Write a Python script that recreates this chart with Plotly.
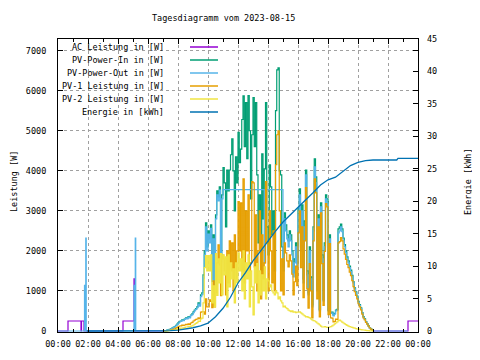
import pandas as pd
import plotly.graph_objects as go

DAY = "2023-08-15"


def ts(hm):
    if hm == "24:00":
        return "2023-08-16 00:00"
    return f"{DAY} {hm}"


# ---------------- daytime samples: every 5 minutes, 07:00 .. 21:00 ----------------
day_times = list(pd.date_range(f"{DAY} 07:00", f"{DAY} 21:00", freq="5min"))

pv_in_day = [
    0, 5, 10, 20, 30, 40, 55, 70, 90, 110, 140, 170,                        # 07
    210, 240, 250, 280, 270, 300, 330, 320, 360, 340, 400, 430,             # 08
    480, 520, 560, 600, 700, 650, 900, 950, 1400, 2000, 2700, 2100,         # 09
    2500, 2300, 2650, 1300, 2400, 1200, 2900, 3500, 3350, 3600, 1800, 3400, # 10
    4080, 3700, 2600, 4020, 3500, 4020, 4400, 4800, 4000, 3000, 4350, 3700, # 11
    4960, 4200, 4540, 5280, 5870, 4600, 5700, 4300, 5880, 5000, 3300, 4900, # 12
    5830, 4600, 5700, 3900, 2200, 3400, 1500, 4420, 2800, 4050, 5700, 2600, # 13
    1900, 4150, 3600, 2400, 3000, 1500, 5500, 6520, 6570, 4000, 3900, 2100, # 14
    1600, 2950, 2650, 2400, 2250, 2500, 2400, 2000, 1450, 1800, 2200, 1700, # 15
    3050, 3550, 2100, 3150, 1300, 2750, 4020, 1500, 950, 2100, 1350, 650,   # 16
    2600, 4300, 3850, 1050, 2900, 530, 3200, 1900, 780, 2200, 3400, 3300,   # 17
    520, 2400, 460, 470, 400, 440, 520, 540, 2550, 2600, 2670, 2550,        # 18
    2320, 2160, 2000, 1850, 1750, 1620, 1520, 1390, 1230, 1080, 980, 870,   # 19
    740, 660, 575, 460, 360, 310, 235, 185, 135, 85, 52, 21,                # 20
    0,                                                                      # 21
]

pv_out_day = [
    0, 5, 10, 18, 28, 38, 50, 65, 85, 105, 130, 160,                        # 07
    200, 230, 240, 265, 260, 290, 315, 305, 345, 330, 385, 410,             # 08
    460, 500, 540, 580, 670, 620, 860, 910, 1320, 1900, 2600, 2000,         # 09
    2420, 2200, 2560, 1240, 2300, 1150, 2800, 3400, 3250, 3520, 1730, 3300, # 10
    3530, 3530, 3530, 3530, 3530, 3530, 3530, 3530, 3530, 3530, 3530, 3530, # 11
    3530, 3530, 3530, 3530, 3530, 3530, 3530, 3530, 3530, 3530, 3530, 3530, # 12
    3530, 3530, 3530, 3530, 3530, 3530, 3530, 3530, 3530, 1700, 3530, 3530, # 13
    3530, 3530, 3530, 3530, 3530, 3530, 3530, 3530, 3530, 3530, 3530, 3530, # 14
    1500, 2800, 2500, 2300, 2100, 2400, 2250, 1900, 1350, 1700, 2100, 1600, # 15
    2900, 3400, 2000, 3000, 1200, 2600, 3900, 1400, 900, 2000, 1300, 600,   # 16
    2500, 4100, 3700, 1000, 2800, 500, 3100, 1800, 750, 2100, 3300, 3200,   # 17
    500, 2300, 440, 450, 380, 420, 500, 520, 2450, 2500, 2600, 2480,        # 18
    2250, 2100, 1950, 1800, 1700, 1580, 1480, 1350, 1200, 1050, 950, 850,   # 19
    720, 640, 560, 450, 350, 300, 230, 180, 130, 80, 50, 20,                # 20
    0,                                                                      # 21
]

pv1_day = [
    0, 0, 3, 8, 12, 18, 25, 32, 45, 55, 70, 85,                             # 07
    110, 125, 130, 145, 140, 150, 165, 160, 180, 165, 200, 215,             # 08
    250, 270, 290, 300, 330, 310, 470, 480, 480, 420, 800, 600,             # 09
    600, 780, 740, 580, 1250, 600, 960, 1700, 2150, 1650, 880, 1900,        # 10
    1800, 1500, 900, 2000, 1200, 2250, 1500, 2200, 1000, 2400, 1300, 2000,  # 11
    3230, 2000, 3200, 1500, 3800, 1200, 3000, 2000, 3400, 1500, 1700, 3730, # 12
    3700, 1600, 2900, 1000, 2000, 3000, 800, 2400, 1300, 1700, 3730, 2200,  # 13
    1000, 3000, 2000, 1200, 2500, 1000, 4150, 4900, 5000, 3000, 1000, 1800, # 14
    900, 2200, 1950, 1750, 1600, 1900, 1750, 1420, 900, 1230, 1620, 1130,   # 15
    2450, 3000, 1580, 2600, 830, 2250, 3580, 1050, 570, 1680, 1000, 330,    # 16
    2250, 3800, 3450, 800, 2600, 350, 2950, 1680, 640, 1990, 3180, 3100,    # 17
    410, 2180, 330, 320, 230, 240, 300, 290, 2200, 2230, 2330, 2250,        # 18
    2050, 1920, 1790, 1660, 1580, 1470, 1380, 1260, 1110, 980, 890, 800,    # 19
    680, 600, 525, 420, 325, 280, 215, 170, 122, 75, 47, 20,                # 20
    0,                                                                      # 21
]

pv2_day = [
    0, 0, 2, 5, 8, 12, 16, 20, 25, 30, 35, 45,                              # 07
    55, 65, 70, 75, 80, 90, 100, 100, 110, 115, 120, 130,                   # 08
    150, 170, 190, 210, 250, 240, 300, 320, 700, 1580, 1880, 1500,          # 09
    1880, 1500, 1900, 700, 1130, 600, 1930, 890, 1800, 1200, 1930, 900,     # 10
    1900, 1400, 1850, 600, 1900, 1100, 1700, 1300, 1550, 700, 1700, 1200,   # 11
    1950, 1500, 1800, 1000, 2000, 800, 1700, 1300, 1900, 600, 1500, 1100,   # 12
    400, 1600, 1200, 1680, 700, 1500, 900, 1400, 1000, 1600, 800, 1300,     # 13
    1250, 1100, 1150, 1000, 950, 900, 1000, 950, 800, 850, 750, 700,        # 14
    600, 620, 580, 560, 520, 500, 480, 500, 470, 480, 460, 470,             # 15
    470, 480, 450, 430, 400, 380, 350, 360, 340, 330, 300, 280,             # 16
    260, 250, 230, 200, 180, 150, 120, 100, 100, 110, 100, 90,              # 17
    90, 100, 110, 130, 150, 180, 200, 230, 260, 270, 250, 220,              # 18
    200, 180, 160, 140, 120, 110, 100, 90, 80, 70, 60, 50,                  # 19
    45, 40, 35, 30, 25, 20, 15, 10, 8, 5, 3, 0,                             # 20
    0,                                                                      # 21
]

# ---------------- night-time samples ----------------
ac_times = ["00:00", "00:40", "01:32", "01:34", "01:44", "04:20", "05:04", "05:06", "07:00",
            "12:00", "21:00", "23:20", "24:00"]
ac_vals = [0, 250, 0, 250, 0, 250, 1300, 0, 0,
           None, 0, 250, 250]

pv_out_night_times = ["00:00", "01:46", "01:48", "01:51", "01:53", "05:04", "05:06", "05:09", "05:11"]
pv_out_night_vals = [0, 1140, 0, 2320, 0, 1140, 0, 2320, 0]
pv_out_late_times = ["23:20"]
pv_out_late_vals = [0]

energy_times = ["01:55", "07:00", "07:30", "08:00", "08:30", "09:00", "09:30", "10:00", "10:30",
                "11:00", "11:30", "12:00", "12:30", "13:00", "13:30", "14:00", "14:30", "15:00",
                "15:30", "16:00", "16:30", "17:00", "17:30", "18:00", "18:30", "19:00", "19:30",
                "20:00", "20:30", "21:00", "22:35", "22:40", "24:00"]
energy_vals = [0, 0, 0.05, 0.15, 0.3, 0.5, 0.8, 1.2, 2.2,
               3.5, 5.2, 7.4, 9.0, 10.8, 12.3, 13.9, 15.4, 16.8,
               17.9, 19.0, 20.2, 21.3, 22.5, 23.3, 23.7, 24.6, 25.5,
               26.0, 26.25, 26.35, 26.35, 26.6, 26.6]

# ---------------- series & styles ----------------
labels = ["AC Leistung in [W]", "PV-Power-In in [W]", "PV-Power-Out in [W]",
          "PV-1 Leistung in [W]", "PV-2 Leistung in [W]", "Energie in [kWh]"]
colors = ["#9400d3", "#009e73", "#56b4e9", "#e69f00", "#f0e442", "#0072b2"]

fig = go.Figure()

fig.add_trace(go.Scatter(x=[ts(t) for t in ac_times], y=ac_vals, mode="lines",
                         line=dict(color=colors[0], width=1.2, shape="hv"),
                         connectgaps=False, name=labels[0]))
fig.add_trace(go.Scatter(x=day_times, y=pv_in_day, mode="lines",
                         line=dict(color=colors[1], width=1.2, shape="hv"), name=labels[1]))
pv_out_x = [ts(t) for t in pv_out_night_times] + day_times + [ts(t) for t in pv_out_late_times]
pv_out_y = pv_out_night_vals + pv_out_day + pv_out_late_vals
fig.add_trace(go.Scatter(x=pv_out_x, y=pv_out_y, mode="lines",
                         line=dict(color=colors[2], width=1.2, shape="hv"), name=labels[2]))
fig.add_trace(go.Scatter(x=day_times, y=pv1_day, mode="lines",
                         line=dict(color=colors[3], width=1.2, shape="hv"), name=labels[3]))
fig.add_trace(go.Scatter(x=day_times, y=pv2_day, mode="lines",
                         line=dict(color=colors[4], width=1.2, shape="hv"), name=labels[4]))
fig.add_trace(go.Scatter(x=[ts(t) for t in energy_times], y=energy_vals, mode="lines",
                         line=dict(color=colors[5], width=1.3), yaxis="y2", name=labels[5]))

FONT = "DejaVu Sans Mono"
FS = 8.5
YMAX = 7290
YMIN = -25
Y2MAX = 45
Y2MIN = YMIN * Y2MAX / YMAX

grid = dict(showgrid=True, gridcolor="#a0a0a0", griddash="3px,3px", gridwidth=1)

# the page body has an 8px margin, so the figure is drawn 8px right/down
fig.update_layout(
    width=472, height=352,
    margin=dict(l=50, r=62, t=31, b=28),
    paper_bgcolor="white", plot_bgcolor="white",
    showlegend=False,
    font=dict(family=FONT, size=FS, color="black"),
    xaxis=dict(type="date", range=[ts("00:00"), ts("24:00")],
               tick0=ts("00:00"), dtick=7200000, tickformat="%H:%M",
               ticks="inside", ticklen=5, tickcolor="black",
               showline=True, linecolor="black", linewidth=1, mirror="ticks",
               zeroline=False, ticklabelstandoff=4,
               minor=dict(dtick=3600000, ticks="inside", ticklen=3, tickcolor="black", showgrid=False),
               **grid),
    yaxis=dict(range=[YMIN, YMAX], tick0=0, dtick=1000,
               ticks="inside", ticklen=5, tickcolor="black",
               showline=True, linecolor="black", linewidth=1, mirror="ticks",
               zeroline=False, ticklabelstandoff=9, **grid),
    yaxis2=dict(range=[Y2MIN, Y2MAX], tick0=0, dtick=5, overlaying="y", side="right",
                ticks="inside", ticklen=5, tickcolor="black", showgrid=False,
                zeroline=False, showline=False, ticklabelstandoff=8),
)

# white key box (hides grid under the key)
fig.add_shape(type="rect", xref="paper", yref="paper", x0=0.002, x1=0.4639, y0=0.7235, y1=0.998,
              fillcolor="white", line=dict(width=0), layer="between")

# key: text right-aligned, line sample to the right (positions in page pixels)
PX_L, PX_T, PW, PH = 58, 39, 360, 293
def px_x(px):
    return (px - PX_L) / PW
def px_y(py):
    return (PX_T + PH - py) / PH

row_y = [47, 60, 73, 86, 99, 112]
for lab, col, ry in zip(labels, colors, row_y):
    fig.add_annotation(x=px_x(166), y=px_y(ry), xref="paper", yref="paper", text=lab,
                       showarrow=False, xanchor="right", yanchor="middle",
                       font=dict(family=FONT, size=FS, color="black"))
    fig.add_shape(type="line", xref="paper", yref="paper", x0=px_x(190), x1=px_x(218),
                  y0=px_y(ry), y1=px_y(ry), line=dict(color=col, width=1.5), layer="above")

# title and axis titles
fig.add_annotation(x=px_x(223.5), y=px_y(18), xref="paper", yref="paper",
                   text="Tagesdiagramm vom 2023-08-15", showarrow=False,
                   xanchor="center", yanchor="middle", font=dict(family=FONT, size=FS))
fig.add_annotation(x=px_x(14), y=px_y(182), xref="paper", yref="paper",
                   text="Leistung [W]", textangle=-90, showarrow=False,
                   xanchor="center", yanchor="middle", font=dict(family=FONT, size=FS))
fig.add_annotation(x=px_x(468), y=px_y(182), xref="paper", yref="paper",
                   text="Energie [kWh]", textangle=-90, showarrow=False,
                   xanchor="center", yanchor="middle", font=dict(family=FONT, size=FS))

fig.write_html("out.html")
